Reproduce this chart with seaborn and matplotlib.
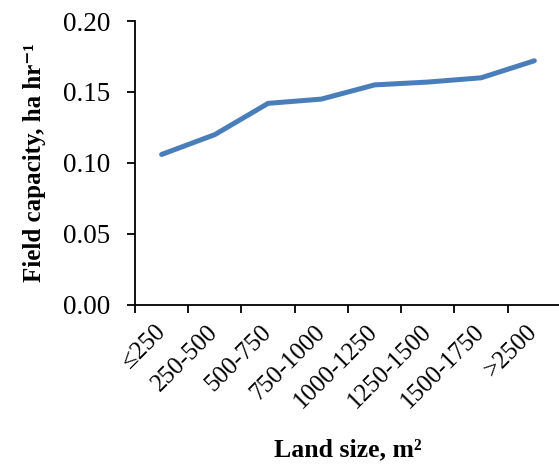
import numpy as np
import pandas as pd
import matplotlib
matplotlib.use("Agg")
import matplotlib.pyplot as plt
import seaborn as sns

# data
land_sizes = ["≤250", "250-500", "500-750", "750-1000", "1000-1250",
              "1250-1500", "1500-1750", ">2500"]
field_capacity = [0.106, 0.120, 0.142, 0.145, 0.155, 0.157, 0.160, 0.172]
y_ticks = [0.00, 0.05, 0.10, 0.15, 0.20]

sns.set_style("white")
plt.rcParams["font.family"] = ["Liberation Serif", "DejaVu Serif"]
plt.rcParams["text.color"] = "black"
plt.rcParams["axes.labelcolor"] = "black"
plt.rcParams["xtick.color"] = "black"
plt.rcParams["ytick.color"] = "black"

df = pd.DataFrame({"pos": np.arange(len(land_sizes)), "fc": field_capacity})

fig = plt.figure(figsize=(5.59, 4.67), dpi=100)
ax = fig.add_axes([0.2415, 0.347, 0.762, 0.608])

sns.lineplot(data=df, x="pos", y="fc", ax=ax, color="#4A7EBB",
             linewidth=3.6, solid_capstyle="round")

ax.set_xlim(-0.5, len(land_sizes) - 0.5)
ax.set_ylim(0, 0.20)
ax.set_yticks(y_ticks)
ax.set_yticklabels([f"{v:.2f}" for v in y_ticks], fontsize=19.5)

# category ticks between the categories, labels at their centres
ax.set_xticks(np.arange(len(land_sizes) + 1) - 0.5)
ax.set_xticklabels([])
ax.set_xticks(np.arange(len(land_sizes)), minor=True)
ax.set_xticklabels(land_sizes, minor=True, rotation=45, ha="right",
                   va="center", rotation_mode="anchor", fontsize=18)
ax.tick_params(axis="x", which="minor", bottom=True, length=0, pad=17)
ax.tick_params(axis="x", which="major", bottom=True, direction="out",
               length=6, width=1.3, color="black")
ax.tick_params(axis="y", left=True, direction="out", length=6, width=1.3,
               color="black", pad=12)

for side in ["top", "right"]:
    ax.spines[side].set_visible(False)
for side in ["left", "bottom"]:
    ax.spines[side].set_color("black")
    ax.spines[side].set_linewidth(1.3)

ax.set_xlabel("Land size, m²", fontsize=18.5, fontweight="bold", labelpad=18)
ax.set_ylabel("Field capacity, ha hr⁻¹", fontsize=18, fontweight="bold",
              labelpad=12)
ax.grid(False)

fig.savefig("out.png", dpi=100)
